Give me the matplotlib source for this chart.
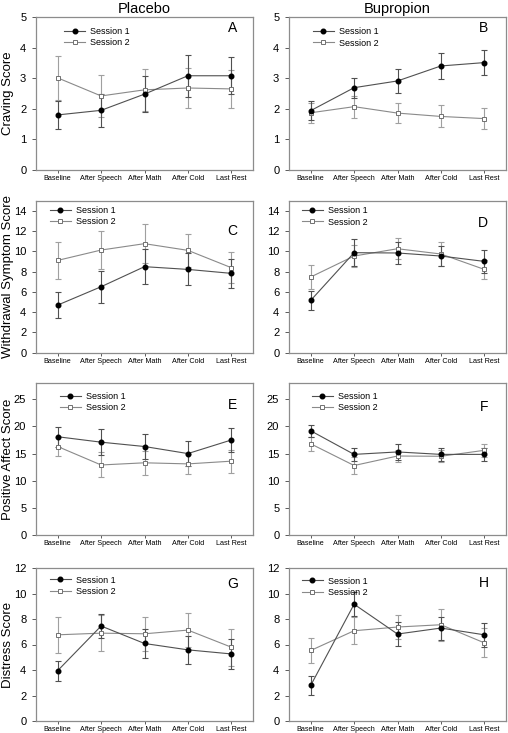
import numpy as np
import matplotlib
matplotlib.use('Agg')
import matplotlib.pyplot as plt

plt.rcParams['font.family'] = ['Liberation Sans', 'DejaVu Sans']

# ============================================================
# Data
# ============================================================
stages = ["Baseline", "After Speech", "After Math", "After Cold", "Last Rest"]

# Craving
craving_pla_s1 = [1.80, 1.95, 2.48, 3.08, 3.08]
craving_pla_s1_err = [0.47, 0.55, 0.58, 0.68, 0.60]
craving_pla_s2 = [3.01, 2.42, 2.62, 2.68, 2.65]
craving_pla_s2_err = [0.73, 0.68, 0.68, 0.65, 0.62]
craving_bup_s1 = [1.94, 2.69, 2.91, 3.40, 3.51]
craving_bup_s1_err = [0.31, 0.33, 0.38, 0.43, 0.42]
craving_bup_s2 = [1.87, 2.07, 1.86, 1.75, 1.68]
craving_bup_s2_err = [0.32, 0.36, 0.34, 0.36, 0.33]

# Withdrawal symptoms
withdrawal_pla_s1 = [4.70, 6.51, 8.49, 8.22, 7.83]
withdrawal_pla_s1_err = [1.32, 1.58, 1.71, 1.58, 1.40]
withdrawal_pla_s2 = [9.11, 10.13, 10.76, 10.10, 8.39]
withdrawal_pla_s2_err = [1.84, 1.90, 1.90, 1.60, 1.50]
withdrawal_bup_s1 = [5.16, 9.87, 9.84, 9.54, 9.01]
withdrawal_bup_s1_err = [0.92, 1.35, 1.10, 1.03, 1.10]
withdrawal_bup_s2 = [7.47, 9.54, 10.26, 9.74, 8.22]
withdrawal_bup_s2_err = [1.20, 1.12, 1.06, 1.20, 0.95]

# Positive affect
positive_pla_s1 = [18.1, 17.1, 16.3, 15.0, 17.5]
positive_pla_s1_err = [1.85, 2.35, 2.25, 2.30, 2.30]
positive_pla_s2 = [16.3, 12.9, 13.3, 13.1, 13.6]
positive_pla_s2_err = [1.75, 2.30, 2.25, 1.90, 2.10]
positive_bup_s1 = [19.2, 14.85, 15.3, 14.85, 14.85]
positive_bup_s1_err = [1.10, 1.25, 1.50, 1.25, 1.25]
positive_bup_s2 = [16.8, 12.8, 14.55, 14.5, 15.6]
positive_bup_s2_err = [1.30, 1.50, 1.10, 1.10, 1.20]

# Distress
distress_pla_s1 = [3.95, 7.45, 6.08, 5.58, 5.26]
distress_pla_s1_err = [0.79, 0.92, 1.15, 1.08, 1.20]
distress_pla_s2 = [6.76, 6.89, 6.84, 7.13, 5.79]
distress_pla_s2_err = [1.40, 1.40, 1.32, 1.34, 1.45]
distress_bup_s1 = [2.79, 9.16, 6.82, 7.29, 6.76]
distress_bup_s1_err = [0.74, 0.95, 0.93, 0.90, 0.92]
distress_bup_s2 = [5.53, 7.08, 7.37, 7.55, 6.13]
distress_bup_s2_err = [1.00, 1.05, 0.97, 1.24, 1.13]

# ============================================================
# Layout
# ============================================================
W, H = 508, 733
fig = plt.figure(figsize=(W / 100, H / 100), dpi=100)

col_left = [36, 289]
ax_w = 217
rows = [(17, 170), (200.7, 352.7), (383, 535), (568, 721)]

panels = [
    # (row, col, s1, s1err, s2, s2err, ymax, yticks, ylabel, letter, legend xy, letter xy)
    (0, 0, craving_pla_s1, craving_pla_s1_err, craving_pla_s2, craving_pla_s2_err,
     5, np.arange(0, 6, 1), "Craving Score", "A", (0.13, 0.895), (0.905, 0.93)),
    (0, 1, craving_bup_s1, craving_bup_s1_err, craving_bup_s2, craving_bup_s2_err,
     5, np.arange(0, 6, 1), None, "B", (0.11, 0.893), (0.895, 0.925)),
    (1, 0, withdrawal_pla_s1, withdrawal_pla_s1_err, withdrawal_pla_s2, withdrawal_pla_s2_err,
     15, np.arange(0, 15, 2), "Withdrawal Symptom Score", "C", (0.065, 0.924), (0.905, 0.8)),
    (1, 1, withdrawal_bup_s1, withdrawal_bup_s1_err, withdrawal_bup_s2, withdrawal_bup_s2_err,
     15, np.arange(0, 15, 2), None, "D", (0.06, 0.923), (0.895, 0.85)),
    (2, 0, positive_pla_s1, positive_pla_s1_err, positive_pla_s2, positive_pla_s2_err,
     28, np.arange(0, 26, 5), "Positive Affect Score", "E", (0.11, 0.9), (0.905, 0.855)),
    (2, 1, positive_bup_s1, positive_bup_s1_err, positive_bup_s2, positive_bup_s2_err,
     28, np.arange(0, 26, 5), None, "F", (0.105, 0.9), (0.9, 0.845)),
    (3, 0, distress_pla_s1, distress_pla_s1_err, distress_pla_s2, distress_pla_s2_err,
     12, np.arange(0, 13, 2), "Distress Score", "G", (0.065, 0.91), (0.905, 0.893)),
    (3, 1, distress_bup_s1, distress_bup_s1_err, distress_bup_s2, distress_bup_s2_err,
     12, np.arange(0, 13, 2), None, "H", (0.06, 0.904), (0.9, 0.9)),
]

x = np.arange(len(stages))
frame_gray = '#8c8c8c'

for row, col, s1, e1, s2, e2, ymax, yticks, ylabel, letter, leg_xy, let_xy in panels:
    top, bottom = rows[row]
    ax = fig.add_axes([col_left[col] / W, 1 - bottom / H, ax_w / W, (bottom - top) / H])

    # error bars first, then lines with markers on top
    ax.errorbar(x, s2, yerr=e2, fmt='none', ecolor='#a0a0a0', elinewidth=0.8,
                capsize=2, capthick=0.8, zorder=2)
    ax.errorbar(x, s1, yerr=e1, fmt='none', ecolor='#505050', elinewidth=0.8,
                capsize=2, capthick=0.8, zorder=3)
    l2, = ax.plot(x, s2, color='#8a8a8a', lw=0.8, marker='s', ms=3.3,
                  mfc='white', mec='#707070', mew=0.7, label='Session 2', zorder=4)
    l1, = ax.plot(x, s1, color='#505050', lw=0.8, marker='o', ms=3.3,
                  mfc='black', mec='black', label='Session 1', zorder=5)

    ax.set_xlim(-0.5, 4.5)
    ax.set_ylim(0, ymax)
    ax.set_xticks(x)
    ax.set_xticklabels(stages, fontsize=5.2)
    ax.set_yticks(yticks)
    ax.tick_params(axis='y', labelsize=8, length=3, width=0.6, color='#404040', pad=4)
    ax.tick_params(axis='x', length=2, width=0.6, color='#404040', pad=1.5)
    for sp in ax.spines.values():
        sp.set_color(frame_gray)
        sp.set_linewidth(0.9)

    if ylabel:
        ax.set_ylabel(ylabel, fontsize=9.5)
        ax.yaxis.set_label_coords(-0.1, 0.5)

    ax.text(let_xy[0], let_xy[1], letter, transform=ax.transAxes,
            fontsize=10, ha='center', va='center')

    ax.legend([l1, l2], ['Session 1', 'Session 2'], loc='upper left',
              bbox_to_anchor=(leg_xy[0], leg_xy[1] + 0.04), frameon=False,
              fontsize=6.5, handlelength=2.3, handletextpad=0.6,
              borderpad=0, borderaxespad=0, labelspacing=0.25)

    if row == 0:
        ax.set_title("Placebo" if col == 0 else "Bupropion", fontsize=10.5, pad=3)

fig.savefig("out.png", dpi=100)
